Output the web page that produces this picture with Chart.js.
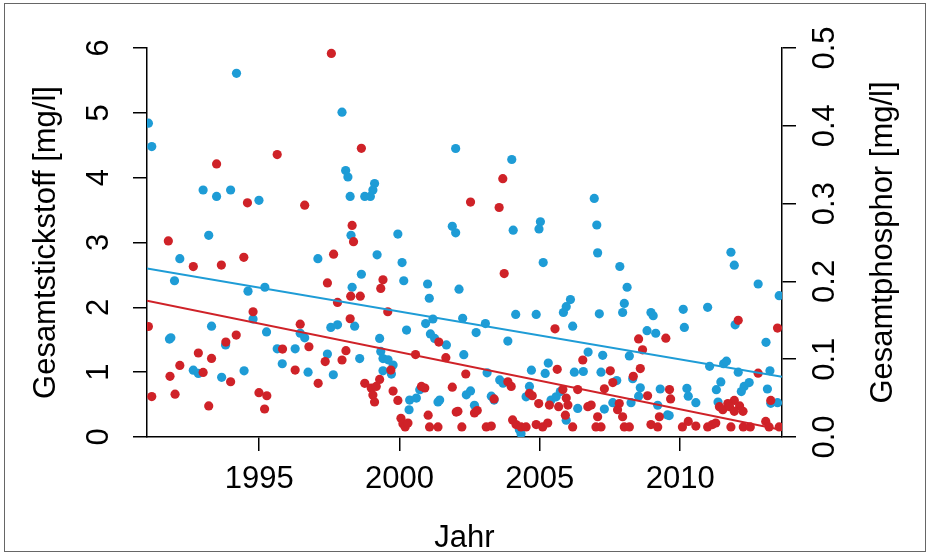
<!DOCTYPE html>
<html>
<head>
<meta charset="utf-8">
<script src="https://cdn.jsdelivr.net/npm/chart.js@4/dist/chart.umd.min.js"></script>
<style>
  html, body { margin: 0; padding: 0; background: #fff; }
  #wrap { position: relative; width: 933px; height: 558px; }
  #frame { position: absolute; left: 4px; top: 3px; width: 922px; height: 549px; border: 1px solid #666; box-sizing: border-box; pointer-events: none; }
  canvas { position: absolute; left: 0; top: 0; }
</style>
</head>
<body>
<div id="wrap">
  <canvas id="chart" width="933" height="558"></canvas>
  <div id="frame"></div>
</div>
<script>
// Gesamtstickstoff (blue, left axis, mg/l)
const nYears = [
  1994.19, 1991.05, 1991.17, 1993.0, 1993.48, 1993.98, 1993.2, 1992.17, 1991.98, 1994.6,
  1993.3, 1991.8, 1991.85, 1993.8, 1992.65, 1992.83, 1993.66, 1994.46,
  1997.95, 1998.08, 1998.16, 1998.24, 1994.99, 1998.27, 1997.09, 1995.2, 1998.31, 1994.78,
  1995.26, 1996.46, 1996.62, 1997.55, 1997.79, 1998.4, 1995.64, 1996.28, 1995.82, 1997.43,
  1996.74, 1997.64,
  2002.0, 1999.11, 1999.05, 1998.96, 1998.76, 1999.94, 2001.88, 2002.0, 1999.2, 2000.09,
  1998.64, 2000.15, 2001.0, 2001.06, 2002.12, 2000.93, 2001.19, 2000.25, 2001.1, 2001.25,
  2001.67, 1999.29, 1998.58, 1999.33, 1999.41, 1999.59, 1999.77, 1999.71, 1999.41, 2000.72,
  2000.36, 2000.6, 2000.34, 2001.37, 2001.43,
  2004.0, 2004.05, 2005.02, 2004.97, 2005.12, 2002.25, 2003.06, 2002.73, 2004.14, 2004.87,
  2005.84, 2003.86, 2002.29, 2003.12, 2003.57, 2003.69, 2004.7, 2005.19, 2005.3, 2002.38,
  2002.53, 2002.67, 2003.27, 2003.37, 2004.63, 2004.51, 2005.4, 2005.58, 2005.73, 2004.27,
  2004.33,
  2006.94, 2007.03, 2007.06, 2007.85, 2008.11, 2008.01, 2007.95, 2006.09, 2005.94, 2006.17,
  2007.12, 2008.96, 2009.04, 2008.82, 2009.13, 2006.72, 2007.24, 2008.19, 2006.23, 2006.55,
  2007.18, 2007.74, 2008.31, 2008.58, 2008.52, 2009.29, 2006.35, 2007.3, 2007.6, 2008.25,
  2009.2, 2005.94, 2009.55,
  2011.81, 2011.93, 2012.78, 2013.53, 2010.11, 2010.15, 2010.98, 2011.96, 2013.06, 2011.05,
  2011.55, 2011.65, 2012.07, 2013.2, 2011.45, 2012.28, 2012.46, 2012.18, 2013.11, 2010.24,
  2010.29, 2010.56, 2011.29, 2011.35, 2013.23, 2013.47, 2009.61
];
const nValues = [
  5.61, 4.84, 4.48, 3.81, 3.71, 3.81, 3.11, 2.75, 2.41, 2.25,
  1.71, 1.51, 1.53, 1.42, 1.03, 0.98, 0.92, 1.02,
  5.01, 4.11, 4.01, 3.71, 3.65, 3.11, 2.75, 2.31, 2.31, 1.82,
  1.62, 1.60, 1.53, 1.69, 1.73, 1.71, 1.36, 1.36, 1.13, 1.28,
  1.00, 0.96,
  4.45, 3.91, 3.81, 3.71, 3.71, 3.13, 3.25, 3.15, 2.81, 2.69,
  2.51, 2.41, 2.36, 2.14, 2.28, 1.75, 1.82, 1.65, 1.59, 1.52,
  1.42, 1.52, 1.21, 1.32, 1.21, 1.19, 1.11, 0.97, 1.02, 0.73,
  0.57, 0.60, 0.42, 0.54, 0.57,
  4.28, 3.19, 3.32, 3.21, 2.69, 1.83, 1.75, 1.61, 1.89, 1.89,
  1.92, 1.48, 1.27, 0.99, 0.88, 0.83, 1.03, 0.98, 1.14, 0.65,
  0.71, 0.49, 0.63, 0.57, 0.78, 0.62, 0.57, 0.62, 0.70, 0.11,
  0.05,
  3.68, 3.27, 2.84, 2.63, 2.31, 2.06, 1.92, 2.12, 2.01, 1.71,
  1.90, 1.92, 1.87, 1.64, 1.60, 1.31, 1.26, 1.25, 1.00, 1.01,
  1.00, 0.87, 0.90, 0.76, 0.63, 0.74, 0.44, 0.43, 0.53, 0.53,
  0.49, 0.26, 0.34,
  2.85, 2.65, 2.36, 2.18, 1.97, 1.69, 2.00, 1.73, 1.46, 1.09,
  1.13, 1.17, 1.00, 1.02, 0.85, 0.78, 0.84, 0.70, 0.74, 0.75,
  0.63, 0.53, 0.73, 0.54, 0.52, 0.53, 0.33
];

// Gesamtphosphor (red, right axis, mg/l)
const pYears = [
  1993.48, 1994.58, 1991.76, 1992.65, 1993.65, 1994.45, 1991.05, 1994.18, 1993.81, 1992.83,
  1993.3, 1992.17, 1991.82, 1993.0, 1993.98, 1991.17, 1992.0, 1993.2,
  1997.57, 1995.64, 1996.62, 1998.31, 1998.36, 1997.65, 1997.43, 1997.79, 1998.26, 1998.24,
  1994.78, 1996.46, 1995.83, 1996.77, 1998.09, 1997.95, 1997.35, 1996.28, 1997.1, 1994.99,
  1995.27, 1995.19,
  1998.64, 1999.41, 1999.33, 1998.6, 1999.58, 2000.57, 2001.4, 2001.65, 1999.69, 1998.76,
  1999.29, 1998.99, 1999.17, 1999.05, 1999.11, 1999.77, 1999.94, 2000.78, 2000.9, 2001.88,
  2001.02, 2000.05, 2000.12, 2000.2, 2000.3, 2001.07, 2001.37, 2002.02,
  2003.68, 2002.53, 2003.55, 2003.73, 2005.54, 2002.36, 2003.86, 2003.98, 2003.37, 2005.62,
  2004.63, 2004.73, 2004.96, 2005.34, 2005.67, 2002.08, 2002.67, 2002.77, 2002.22, 2003.09,
  2003.27, 2004.03, 2004.15, 2004.33, 2004.51, 2004.87, 2005.1, 2005.28,
  2008.52, 2008.66, 2009.49, 2006.53, 2008.58, 2007.51, 2007.6, 2007.3, 2008.33, 2006.35,
  2005.82, 2005.94, 2008.84, 2006.0, 2006.71, 2006.83, 2007.83, 2007.77, 2007.06, 2007.95,
  2005.91, 2009.26, 2006.17, 2007.0, 2007.18, 2008.01, 2008.19, 2008.96, 2009.2,
  2012.07, 2013.47, 2012.78, 2009.62, 2009.66, 2013.23, 2011.93, 2011.4, 2011.52, 2011.7,
  2011.76, 2012.12, 2012.24, 2011.93, 2010.08, 2010.29, 2010.56, 2010.98, 2011.15, 2011.27,
  2011.81, 2012.25, 2012.5, 2013.05, 2013.17, 2013.53
];
const pValues = [
  0.351, 0.301, 0.252, 0.219, 0.221, 0.231, 0.142, 0.131, 0.122, 0.108,
  0.101, 0.092, 0.078, 0.083, 0.071, 0.052, 0.055, 0.040,
  0.493, 0.363, 0.298, 0.272, 0.251, 0.235, 0.198, 0.173, 0.181, 0.152,
  0.161, 0.145, 0.113, 0.116, 0.111, 0.099, 0.097, 0.086, 0.069, 0.057,
  0.053, 0.036,
  0.371, 0.202, 0.191, 0.181, 0.161, 0.106, 0.122, 0.102, 0.086, 0.069,
  0.074, 0.063, 0.065, 0.054, 0.045, 0.059, 0.047, 0.065, 0.063, 0.064,
  0.028, 0.024, 0.017, 0.013, 0.018, 0.013, 0.013, 0.032,
  0.332, 0.302, 0.295, 0.210, 0.139, 0.081, 0.071, 0.065, 0.049, 0.087,
  0.056, 0.053, 0.043, 0.041, 0.039, 0.033, 0.031, 0.034, 0.013, 0.013,
  0.014, 0.022, 0.016, 0.013, 0.013, 0.016, 0.013, 0.018,
  0.126, 0.112, 0.127, 0.099, 0.088, 0.085, 0.070, 0.062, 0.078, 0.061,
  0.061, 0.050, 0.053, 0.041, 0.039, 0.041, 0.043, 0.035, 0.026, 0.026,
  0.028, 0.026, 0.013, 0.013, 0.013, 0.013, 0.013, 0.016, 0.013,
  0.150, 0.140, 0.082, 0.061, 0.049, 0.047, 0.047, 0.039, 0.035, 0.043,
  0.039, 0.040, 0.033, 0.033, 0.013, 0.020, 0.014, 0.013, 0.016, 0.018,
  0.013, 0.013, 0.013, 0.020, 0.013, 0.013
];

// linear trend lines (end points)
const trendYears = [1991, 2013.63];
const nTrend = [2.60, 0.93];
const pTrend = [0.175, 0.009];

// axes
const xTicks = [1995, 2000, 2005, 2010];
const nTicks = [0, 1, 2, 3, 4, 5, 6];
const pTicks = [0, 0.1, 0.2, 0.3, 0.4, 0.5];
const xRange = [1991, 2013.63];

const BLUE = '#1e9cd6';
const RED = '#cf2228';
const FONT = '31px "Liberation Sans", Arial, Helvetica, sans-serif';

const zip = (xs, ys) => xs.map((x, i) => ({ x: x, y: ys[i] }));

// tick labels and axis titles in R style (all text reads bottom to top on y axes)
const axisText = {
  id: 'axisText',
  afterDraw(chart) {
    const { ctx, chartArea, scales } = chart;
    const midY = (chartArea.top + chartArea.bottom) / 2;
    ctx.save();
    ctx.fillStyle = '#000';
    ctx.font = FONT;
    ctx.textAlign = 'center';
    ctx.textBaseline = 'middle';

    scales.x.ticks.forEach(t => {
      ctx.fillText(String(t.value), scales.x.getPixelForValue(t.value), chartArea.bottom + 42);
    });
    ctx.fillText('Jahr', (chartArea.left + chartArea.right) / 2, chartArea.bottom + 101);

    const vertical = (text, x, y) => {
      ctx.save();
      ctx.translate(x, y);
      ctx.rotate(-Math.PI / 2);
      ctx.fillText(text, 0, 0);
      ctx.restore();
    };
    scales.y.ticks.forEach(t => {
      vertical(String(t.value), chartArea.left - 48, scales.y.getPixelForValue(t.value));
    });
    scales.y2.ticks.forEach(t => {
      vertical(t.value.toFixed(1), chartArea.right + 43, scales.y2.getPixelForValue(t.value));
    });
    vertical('Gesamtstickstoff [mg/l]', chartArea.left - 101, midY);
    vertical('Gesamtphosphor [mg/l]', chartArea.right + 101, midY);
    ctx.restore();
  }
};

const axisLook = {
  border: { display: true, color: '#000', width: 1.5 },
  grid: { display: true, drawOnChartArea: false, drawTicks: true, tickLength: 14, color: '#000', lineWidth: 1.5 },
  ticks: { display: false }
};

new Chart(document.getElementById('chart'), {
  type: 'scatter',
  data: {
    datasets: [
      {
        type: 'line', label: 'Trend Stickstoff', data: zip(trendYears, nTrend), yAxisID: 'y',
        borderColor: BLUE, borderWidth: 2, pointRadius: 0, fill: false
      },
      {
        type: 'line', label: 'Trend Phosphor', data: zip(trendYears, pTrend), yAxisID: 'y2',
        borderColor: RED, borderWidth: 2, pointRadius: 0, fill: false
      },
      {
        label: 'Gesamtphosphor', data: zip(pYears, pValues), yAxisID: 'y2',
        backgroundColor: RED, borderWidth: 0, pointRadius: 4.6
      },
      {
        label: 'Gesamtstickstoff', data: zip(nYears, nValues), yAxisID: 'y',
        backgroundColor: BLUE, borderWidth: 0, pointRadius: 4.6
      }
    ]
  },
  options: {
    responsive: false,
    animation: false,
    devicePixelRatio: 1,
    layout: { padding: { top: 48, left: 0, right: 0, bottom: 0 } },
    plugins: { legend: { display: false }, tooltip: { enabled: false } },
    scales: {
      x: {
        type: 'linear', position: 'bottom', min: xRange[0], max: xRange[1],
        ...axisLook,
        afterBuildTicks: s => { s.ticks = xTicks.map(v => ({ value: v })); },
        afterFit: s => { s.height = 121; }
      },
      y: {
        type: 'linear', position: 'left', min: 0, max: 6,
        ...axisLook,
        afterBuildTicks: s => { s.ticks = nTicks.map(v => ({ value: v })); },
        afterFit: s => { s.width = 147; }
      },
      y2: {
        type: 'linear', position: 'right', min: 0, max: 0.5,
        ...axisLook,
        afterBuildTicks: s => { s.ticks = pTicks.map(v => ({ value: v })); },
        afterFit: s => { s.width = 151; }
      }
    }
  },
  plugins: [axisText]
});
</script>
</body>
</html>
